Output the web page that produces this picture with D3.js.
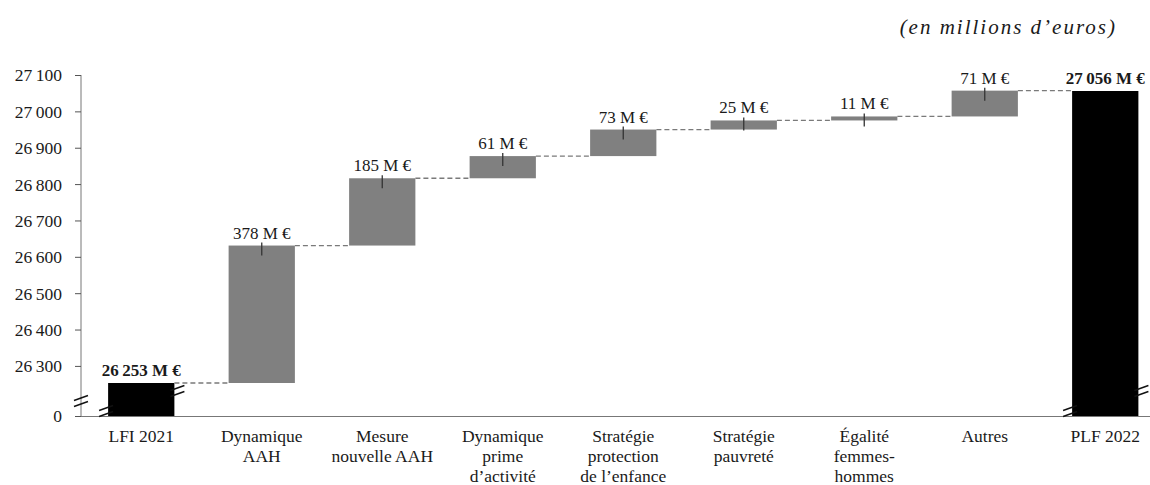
<!DOCTYPE html>
<html>
<head>
<meta charset="utf-8">
<script src="https://cdn.jsdelivr.net/npm/d3@7"></script>
<style>
  html, body { margin: 0; padding: 0; background: #fff; }
  svg { display: block; }
  text { font-family: "Liberation Serif", "DejaVu Serif", serif; fill: #1a1a1a; }
</style>
</head>
<body>
<svg id="chart" width="1150" height="485"></svg>
<script>
// Budget steps, LFI 2021 to PLF 2022 (millions of euros)
const categories = ["LFI 2021", "Dynamique AAH", "Mesure nouvelle AAH", "Dynamique prime d'activité",
  "Stratégie protection de l'enfance", "Stratégie pauvreté", "Égalité femmes-hommes", "Autres", "PLF 2022"];
const categoryLines = [["LFI 2021"], ["Dynamique", "AAH"], ["Mesure", "nouvelle AAH"],
  ["Dynamique", "prime", "d’activité"], ["Stratégie", "protection", "de l’enfance"],
  ["Stratégie", "pauvreté"], ["Égalité", "femmes-", "hommes"], ["Autres"], ["PLF 2022"]];
const startTotal = 26253;
const deltas = [378, 185, 61, 73, 25, 11, 71];
const endTotal = 27056;
const yTicks = [0, 26300, 26400, 26500, 26600, 26700, 26800, 26900, 27000, 27100];

const svg = d3.select("#chart");

// Cumulative levels for the floating bars
const steps = [];
steps.push({ cat: categories[0], from: 0, to: startTotal, total: true, label: startTotal });
let level = startTotal;
deltas.forEach((d, i) => {
  steps.push({ cat: categories[i + 1], from: level, to: level + d, total: false, label: d });
  level += d;
});
steps.push({ cat: categories[8], from: 0, to: endTotal, total: true, label: endTotal });

const x = d3.scaleBand().domain(categories).range([81, 1165.5]).paddingInner(0.45).paddingOuter(0.225);
// Broken value axis: 0 sits just below the compressed break
const y = d3.scaleLinear().domain([0, 26165, 27100]).range([416, 415, 75]);

const fmt = v => d3.format(",")(v).replace(/,/g, "\u2009");

// Title
svg.append("text").attr("x", 1117).attr("y", 34).attr("text-anchor", "end")
  .style("font-style", "italic").style("font-size", "21px").style("letter-spacing", "2px")
  .text("(en millions d’euros)");

// Y axis
const yAxis = d3.axisLeft(y).tickValues(yTicks).tickSize(6).tickFormat(fmt);
const gy = svg.append("g").attr("transform", "translate(81,0)").call(yAxis);
gy.select(".domain").attr("stroke", "#777").attr("d", "M0,75V416");
gy.selectAll(".tick line").attr("stroke", "#555");
gy.selectAll(".tick text").attr("x", -19).attr("dy", "0.34em")
  .style("font-size", "17.5px").style("font-family", "Liberation Serif, serif").attr("fill", "#1a1a1a");

// X baseline
svg.append("line").attr("x1", 81).attr("x2", 1150).attr("y1", 416.5).attr("y2", 416.5)
  .attr("stroke", "#777").attr("stroke-width", 1.2);

// Bars
svg.append("g").selectAll("rect").data(steps).join("rect")
  .attr("x", d => x(d.cat))
  .attr("width", x.bandwidth())
  .attr("y", d => y(Math.max(d.from, d.to)))
  .attr("height", d => Math.abs(y(d.from) - y(d.to)))
  .attr("fill", d => d.total ? "#000" : "#808080");

// Small marker at the top of each change bar
svg.append("g").selectAll("line").data(steps.filter(d => !d.total)).join("line")
  .attr("x1", d => x(d.cat) + x.bandwidth() / 2)
  .attr("x2", d => x(d.cat) + x.bandwidth() / 2)
  .attr("y1", d => y(d.to) - 3)
  .attr("y2", d => y(d.to) + 10)
  .attr("stroke", "#333").attr("stroke-width", 1.3);

// Dashed connectors between consecutive bars
const links = steps.slice(0, -1).map((d, i) => ({ a: d.cat, b: steps[i + 1].cat, v: d.to }));
svg.append("g").selectAll("line").data(links).join("line")
  .attr("x1", d => x(d.a) + x.bandwidth())
  .attr("x2", d => x(d.b))
  .attr("y1", d => y(d.v)).attr("y2", d => y(d.v))
  .attr("stroke", "#7a7a7a").attr("stroke-width", 1.3).attr("stroke-dasharray", "5,3");

// Value labels
svg.append("g").selectAll("text").data(steps).join("text")
  .attr("x", d => x(d.cat) + x.bandwidth() / 2)
  .attr("y", d => y(Math.max(d.from, d.to)) - 7)
  .attr("text-anchor", "middle")
  .style("font-size", "17px")
  .style("font-weight", d => d.total ? "bold" : "normal")
  .text(d => fmt(d.label) + " M €");

// Category labels
const xl = svg.append("g").selectAll("text").data(categories).join("text")
  .attr("text-anchor", "middle").style("font-size", "17.5px")
  .attr("transform", d => `translate(${x(d) + x.bandwidth() / 2},442)`);
xl.selectAll("tspan").data((d, i) => categoryLines[i]).join("tspan")
  .attr("x", 0).attr("y", (d, i) => i * 20).text(d => d);

// Axis-break marks
function breakMark(cx, cy) {
  const g = svg.append("g").attr("stroke", "#111").attr("stroke-width", 1.4);
  [-3, 3].forEach(o => g.append("line")
    .attr("x1", cx - 7).attr("y1", cy + o + 2.5).attr("x2", cx + 7).attr("y2", cy + o - 2.5));
}
breakMark(81, 401);
[categories[0], categories[8]].forEach(c => {
  breakMark(x(c) - 2, 411);
  breakMark(x(c) + x.bandwidth() + 3, 391);
});
</script>
</body>
</html>
